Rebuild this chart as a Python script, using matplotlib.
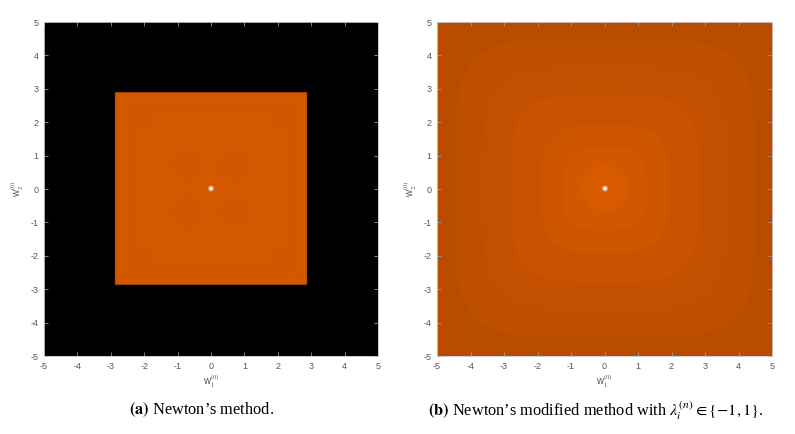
"""Basins of convergence for Newton's method and its modified version."""

import numpy as np
import matplotlib.pyplot as plt
from matplotlib.colors import LinearSegmentedColormap

plt.rcParams["mathtext.fontset"] = "stix"
plt.rcParams["axes.unicode_minus"] = False

# plot extent and ticks
extent = [-5, 5]
ticks = [-5, -4, -3, -2, -1, 0, 1, 2, 3, 4, 5]

# (a) Newton's method: converging square, black outside
newton_half_width = 2.88
newton_base_level = 0.82
newton_frame_half_widths = [2.88, 2.72, 2.52, 2.36]
newton_frame_levels = [0.80, 0.81, 0.80, 0.815]
newton_bright_spots = [(-1.4, 1.4), (0.0, 1.4), (1.4, 1.4), (-1.4, 0.0), (1.4, 0.0),
                       (-1.4, -1.4), (0.0, -1.4), (1.4, -1.4)]
newton_dark_blobs = [(-2.0, 2.0), (2.0, 2.0), (-2.0, -2.0), (2.0, -2.0)]
newton_dark_rings = [(-0.7, 0.7), (0.7, 0.7), (-0.7, -0.7), (0.7, -0.7)]

# (b) modified method: nested rounded squares (half widths, exponents, levels)
modified_band_half_widths = [4.45, 3.65, 2.8, 1.9, 1.25, 0.7]
modified_band_exponents = [5.0, 4.5, 4.0, 3.5, 3.0, 2.0]
modified_band_levels = [0.58, 0.62, 0.66, 0.71, 0.76, 0.81, 0.86]

captions = [
    r"$\mathbf{(a)}$ Newton’s method.",
    r"$\mathbf{(b)}$ Newton’s modified method with $\lambda_i^{(n)} \in \{-1, 1\}$.",
]

cmap = LinearSegmentedColormap.from_list(
    "basin", [(0.0, "#000000"), (0.4, "#A84400"), (0.9, "#DC5C00"), (1.0, "#FFFFFF")]
)

n = 800
xs = np.linspace(extent[0], extent[1], n)
X, Y = np.meshgrid(xs, xs)


def add_center_dot(img):
    r = np.hypot(X, Y)
    img[r < 0.09] = np.maximum(img[r < 0.09], 0.94)
    img[r < 0.045] = 1.0
    return img


def newton_image():
    img = np.zeros_like(X)
    inf_norm = np.maximum(np.abs(X), np.abs(Y))
    inside = inf_norm <= newton_half_width
    img[inside] = newton_base_level
    for hw, lev in zip(newton_frame_half_widths, newton_frame_levels):
        band = inside & (inf_norm <= hw) & (inf_norm > hw - 0.12)
        img[band] = lev
    for cx, cy in newton_bright_spots:
        d = np.hypot(X - cx, Y - cy)
        img[d < 0.12] = 0.86
    for cx, cy in newton_dark_blobs:
        d = np.hypot(X - cx, Y - cy)
        img[d < 0.3] = 0.80
    for cx, cy in newton_dark_rings:
        d = np.hypot(X - cx, Y - cy)
        img[d < 0.55] = 0.815
    return add_center_dot(img)


def modified_image():
    img = np.full_like(X, modified_band_levels[0])
    for hw, p, lev in zip(modified_band_half_widths, modified_band_exponents, modified_band_levels[1:]):
        norm = (np.abs(X) ** p + np.abs(Y) ** p) ** (1.0 / p)
        img[norm <= hw] = lev
    return add_center_dot(img)


def style_axis(ax):
    ax.set_xlim(extent)
    ax.set_ylim(extent)
    ax.set_xticks(ticks)
    ax.set_yticks(ticks)
    ax.tick_params(direction="in", length=3, width=0.6, color="#9a9a9a",
                   labelsize=6.5, labelcolor="#555555", top=True, right=True, pad=4)
    for label in ax.get_xticklabels() + ax.get_yticklabels():
        label.set_family("Liberation Sans")
    for spine in ax.spines.values():
        spine.set_color("#c8c8c8")
        spine.set_linewidth(0.6)
    ax.set_xlabel(r"w$_1^{(0)}$", fontsize=7, color="#555555", labelpad=1,
                  family="Liberation Sans")
    ax.set_ylabel(r"w$_2^{(0)}$", fontsize=7, color="#555555", labelpad=3,
                  family="Liberation Sans")


fig = plt.figure(figsize=(7.95, 4.34), dpi=100)
positions = [[0.0553, 0.1797, 0.4201, 0.7696], [0.5497, 0.1797, 0.4214, 0.7696]]
images = [newton_image(), modified_image()]

for pos, img in zip(positions, images):
    ax = fig.add_axes(pos)
    ax.imshow(img, cmap=cmap, vmin=0, vmax=1, origin="lower",
              extent=[extent[0], extent[1], extent[0], extent[1]], interpolation="bilinear",
              aspect="auto")
    style_axis(ax)

fig.text(0.253, 0.055, captions[0], ha="center", va="center", fontsize=11.8,
         family="Liberation Serif")
fig.text(0.750, 0.055, captions[1], ha="center", va="center", fontsize=11.8,
         family="Liberation Serif")

fig.savefig("out.png", dpi=100)
